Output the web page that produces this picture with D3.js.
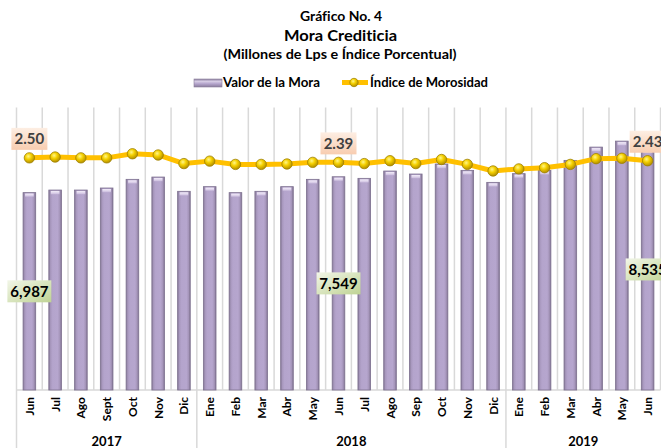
<!DOCTYPE html>
<html>
<head>
<meta charset="utf-8">
<script src="https://cdn.jsdelivr.net/npm/d3@7"></script>
<style>
  html, body { margin: 0; padding: 0; background: #ffffff; }
  svg { display: block; font-family: Lato, "Open Sans", sans-serif; font-variant-ligatures: none; font-feature-settings: "liga" 0, "dlig" 0; }
</style>
</head>
<body>
<svg id="chart" width="661" height="448"></svg>
<script>
// ---------------- data ----------------
const months = ["Jun","Jul","Ago","Sept","Oct","Nov","Dic",
                "Ene","Feb","Mar","Abr","May","Jun","Jul","Ago","Sep","Oct","Nov","Dic",
                "Ene","Feb","Mar","Abr","May","Jun"];
const years = ["2017", "2018", "2019"];
const yearCounts = [7, 12, 6];
const mora = [6987, 7078, 7078, 7150, 7457, 7538, 7033,
              7198, 6986, 7033, 7198, 7457, 7549, 7492, 7751, 7645, 8000, 7775, 7350,
              7658, 7775, 8128, 8598, 8810, 8535];
const indice = [2.50, 2.52, 2.50, 2.50, 2.60, 2.57, 2.36,
                2.42, 2.34, 2.34, 2.35, 2.39, 2.39, 2.36, 2.43, 2.36, 2.46, 2.34, 2.18,
                2.23, 2.26, 2.34, 2.48, 2.49, 2.43];
const labeled = [0, 12, 24];
const seriesNames = ["Valor de la Mora", "Índice de Morosidad"];
const titles = ["Gráfico No. 4", "Mora Crediticia", "(Millones de Lps e Índice Porcentual)"];

// ---------------- layout ----------------
const svg = d3.select("#chart");
const plot = { left: 16.5, right: 660.5, top: 107.5, bottom: 390 };

const x = d3.scaleBand().domain(d3.range(months.length)).range([plot.left, plot.right]).padding(0);
const y = d3.scaleLinear().domain([0, 10000]).range([plot.bottom, plot.top]);
const y2 = d3.scaleLinear().domain([-3.17, 3.73]).range([plot.bottom, plot.top]);
const cx = i => x(i) + x.bandwidth() / 2;
const barW = x.bandwidth() * 0.49;

// ---------------- defs ----------------
const defs = svg.append("defs");
const bg = defs.append("linearGradient").attr("id", "barGrad").attr("x1", "0").attr("x2", "1").attr("y1", "0").attr("y2", "0");
[["0%", "#857896"], ["14%", "#a898be"], ["30%", "#b4a4cc"], ["70%", "#b6a6ce"], ["86%", "#a696bb"], ["100%", "#807391"]]
  .forEach(([o, c]) => bg.append("stop").attr("offset", o).attr("stop-color", c));
const bt = defs.append("linearGradient").attr("id", "barTop").attr("x1", "0").attr("x2", "0").attr("y1", "0").attr("y2", "1");
[["0%", "#f4eefa", 1], ["60%", "#d9cde8", 0.9], ["100%", "#b8a8cf", 0]]
  .forEach(([o, c, a]) => bt.append("stop").attr("offset", o).attr("stop-color", c).attr("stop-opacity", a));
const mg = defs.append("radialGradient").attr("id", "dotGrad").attr("cx", "40%").attr("cy", "35%").attr("r", "65%");
[["0%", "#fff68a"], ["45%", "#f5d000"], ["100%", "#b38f00"]]
  .forEach(([o, c]) => mg.append("stop").attr("offset", o).attr("stop-color", c));
const pg = defs.append("linearGradient").attr("id", "peachGrad").attr("x1", "0").attr("x2", "0").attr("y1", "0").attr("y2", "1");
[["0%", "#fdeee3"], ["100%", "#f8cdb0"]].forEach(([o, c]) => pg.append("stop").attr("offset", o).attr("stop-color", c));
const gg = defs.append("linearGradient").attr("id", "greenGrad").attr("x1", "0").attr("x2", "1").attr("y1", "0").attr("y2", "1");
[["0%", "#f2f6e8"], ["100%", "#bfd394"]].forEach(([o, c]) => gg.append("stop").attr("offset", o).attr("stop-color", c));
const lg = defs.append("linearGradient").attr("id", "legGrad").attr("x1", "0").attr("x2", "0").attr("y1", "0").attr("y2", "1");
[["0%", "#8d80a0"], ["30%", "#d6cce4"], ["60%", "#b4a4cc"], ["100%", "#8a7d9c"]].forEach(([o, c]) => lg.append("stop").attr("offset", o).attr("stop-color", c));

// ---------------- titles ----------------
svg.append("text").attr("x", 341).attr("y", 20.5).attr("text-anchor", "middle")
  .attr("font-size", 13).attr("font-weight", "bold").attr("fill", "#000")
  .attr("textLength", 82).attr("lengthAdjust", "spacingAndGlyphs").text(titles[0]);
svg.append("text").attr("x", 340.5).attr("y", 40.5).attr("text-anchor", "middle")
  .attr("font-size", 16).attr("font-weight", "bold").attr("fill", "#000")
  .attr("textLength", 113).attr("lengthAdjust", "spacingAndGlyphs").text(titles[1]);
svg.append("text").attr("x", 340).attr("y", 58.5).attr("text-anchor", "middle")
  .attr("font-size", 13).attr("font-weight", "bold").attr("fill", "#000")
  .attr("textLength", 233).attr("lengthAdjust", "spacingAndGlyphs").text(titles[2]);

// ---------------- legend ----------------
const leg = svg.append("g");
leg.append("rect").attr("x", 194).attr("y", 79).attr("width", 28).attr("height", 8)
  .attr("fill", "url(#legGrad)").attr("stroke", "#8a7d9c").attr("stroke-width", 0.6);
leg.append("text").attr("x", 223).attr("y", 87).attr("font-size", 12.5).attr("font-weight", "bold")
  .attr("fill", "#000").attr("textLength", 97).attr("lengthAdjust", "spacingAndGlyphs").text(seriesNames[0]);
leg.append("line").attr("x1", 342).attr("x2", 368).attr("y1", 82.5).attr("y2", 82.5)
  .attr("stroke", "#ffc000").attr("stroke-width", 5);
leg.append("circle").attr("cx", 354).attr("cy", 82.5).attr("r", 4.2)
  .attr("fill", "url(#dotGrad)").attr("stroke", "#9c7e00").attr("stroke-width", 0.7);
leg.append("text").attr("x", 370).attr("y", 87).attr("font-size", 12.5).attr("font-weight", "bold")
  .attr("fill", "#000").attr("textLength", 118).attr("lengthAdjust", "spacingAndGlyphs").text(seriesNames[1]);

// ---------------- gridlines ----------------
const bounds = d3.range(months.length + 1).map(i => i < months.length ? x(i) : plot.right);
svg.append("g").selectAll("line").data(bounds).join("line")
  .attr("x1", d => d).attr("x2", d => d).attr("y1", plot.top).attr("y2", plot.bottom)
  .attr("stroke", "#d9d9d9").attr("stroke-width", 1.5);

// year separators (extend through the label area)
let acc = 0;
const yearBounds = [plot.left];
const yearCenters = [];
yearCounts.forEach((c) => {
  const start = x(acc);
  const end = (acc + c) < months.length ? x(acc + c) : plot.right;
  yearCenters.push((start + end) / 2);
  yearBounds.push(end);
  acc += c;
});
svg.append("g").selectAll("line").data(yearBounds.slice(0, 3)).join("line")
  .attr("x1", d => d).attr("x2", d => d).attr("y1", plot.bottom).attr("y2", 448)
  .attr("stroke", "#d9d9d9").attr("stroke-width", 1.5);

// x axis line
svg.append("line").attr("x1", plot.left).attr("x2", plot.right).attr("y1", plot.bottom).attr("y2", plot.bottom)
  .attr("stroke", "#d9d9d9").attr("stroke-width", 1.5);

// ---------------- bars ----------------
const bars = svg.append("g");
bars.selectAll("rect.bar").data(mora).join("rect").attr("class", "bar")
  .attr("x", (d, i) => cx(i) - barW / 2).attr("width", barW)
  .attr("y", d => y(d)).attr("height", d => plot.bottom - y(d))
  .attr("fill", "url(#barGrad)").attr("stroke", "#7d708f").attr("stroke-width", 0.8);
bars.selectAll("rect.top").data(mora).join("rect").attr("class", "top")
  .attr("x", (d, i) => cx(i) - barW / 2 + 2).attr("width", barW - 4)
  .attr("y", d => y(d) + 1).attr("height", 4)
  .attr("fill", "url(#barTop)");

// ---------------- line ----------------
const lineGen = d3.line().x((d, i) => cx(i)).y(d => y2(d));
svg.append("path").datum(indice).attr("d", lineGen)
  .attr("fill", "none").attr("stroke", "#ffc000").attr("stroke-width", 5)
  .attr("stroke-linejoin", "round").attr("stroke-linecap", "round");
svg.append("g").selectAll("circle").data(indice).join("circle")
  .attr("cx", (d, i) => cx(i)).attr("cy", d => y2(d)).attr("r", 5.2)
  .attr("fill", "url(#dotGrad)").attr("stroke", "#a08200").attr("stroke-width", 0.8);

// ---------------- data labels ----------------
const fmtBar = d3.format(",");
const fmtIdx = d3.format(".2f");
const barLabels = svg.append("g");
labeled.forEach(i => {
  const mid = (y(mora[i]) + plot.bottom) / 2;
  const w = 44, h = 22;
  barLabels.append("rect").attr("x", cx(i) - w / 2).attr("y", mid - h / 2).attr("width", w).attr("height", h)
    .attr("fill", "url(#greenGrad)");
  barLabels.append("text").attr("x", cx(i)).attr("y", mid + 5.2).attr("text-anchor", "middle")
    .attr("font-size", 15).attr("font-weight", "bold").attr("fill", "#000").text(fmtBar(mora[i]));
});
const idxLabels = svg.append("g");
labeled.forEach(i => {
  const py = y2(indice[i]);
  const w = 36, h = 22;
  idxLabels.append("rect").attr("x", cx(i) - w / 2).attr("y", py - 8 - h).attr("width", w).attr("height", h)
    .attr("fill", "url(#peachGrad)");
  idxLabels.append("text").attr("x", cx(i)).attr("y", py - 8 - h / 2 + 5.2).attr("text-anchor", "middle")
    .attr("font-size", 15).attr("font-weight", "bold").attr("fill", "#404040").text(fmtIdx(indice[i]));
});

// ---------------- x axis (months) ----------------
const xAxis = d3.axisBottom(x).tickSize(0).tickPadding(0).tickFormat(i => months[i]);
const ax = svg.append("g").attr("transform", `translate(0,${plot.bottom})`).call(xAxis);
ax.select(".domain").remove();
ax.selectAll("text")
  .attr("font-family", "Lato, 'Open Sans', sans-serif")
  .attr("font-size", 12).attr("font-weight", "bold").attr("fill", "#000")
  .attr("text-anchor", "end").attr("dy", null).attr("y", 0)
  .attr("transform", "translate(4.5,7) rotate(-90)");

// ---------------- year labels ----------------
svg.append("g").selectAll("text").data(years).join("text")
  .attr("x", (d, i) => yearCenters[i]).attr("y", 446).attr("text-anchor", "middle")
  .attr("font-size", 13).attr("font-weight", "bold").attr("fill", "#000").text(d => d);
</script>
</body>
</html>
